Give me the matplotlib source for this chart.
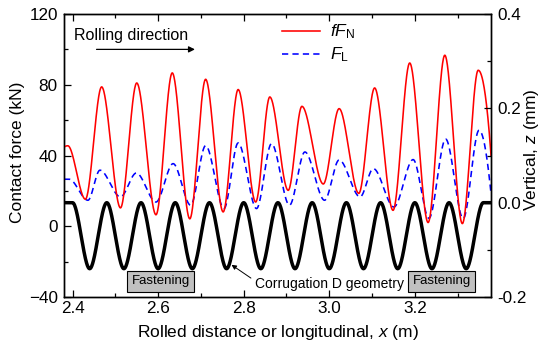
import numpy as np
import matplotlib
matplotlib.use("Agg")
import matplotlib.pyplot as plt
from matplotlib.ticker import MultipleLocator, FormatStrFormatter
from matplotlib.lines import Line2D

plt.rcParams["font.family"] = ["Liberation Sans", "DejaVu Sans"]
plt.rcParams["mathtext.fontset"] = "custom"
plt.rcParams["mathtext.rm"] = "Liberation Sans"
plt.rcParams["mathtext.it"] = "Liberation Sans:italic"
plt.rcParams["lines.scale_dashes"] = False

# Friction force fF_N: local extrema along the rail (x in m, force in kN)
fn_x = [2.380, 2.389, 2.430, 2.468, 2.512, 2.550, 2.595, 2.633, 2.674, 2.711,
        2.752, 2.787, 2.828, 2.861, 2.904, 2.936, 2.986, 3.023, 3.069, 3.106,
        3.149, 3.188, 3.231, 3.270, 3.311, 3.348, 3.378]
fn_val = [44.6, 45.5, 15.3, 78.8, 10.4, 81.0, 6.5, 86.7, 4.2, 83.1,
          8.1, 77.3, 13.7, 73.1, 20.3, 67.8, 23.9, 66.5, 18.6, 78.2,
          9.0, 92.3, 2.1, 96.7, 1.5, 88.2, 40.1]

# Longitudinal force F_L: local extrema (kN)
fl_x = [2.380, 2.392, 2.436, 2.464, 2.512, 2.549, 2.595, 2.635, 2.676, 2.711,
        2.754, 2.787, 2.830, 2.865, 2.907, 2.943, 2.989, 3.023, 3.072, 3.103,
        3.151, 3.196, 3.233, 3.272, 3.313, 3.350, 3.378]
fl_val = [26.6, 26.6, 14.7, 31.7, 16.6, 30.1, 13.7, 35.4, 11.9, 45.6,
          10.0, 47.1, 10.0, 46.7, 11.9, 42.0, 14.7, 37.5, 16.6, 32.6,
          10.9, 37.7, 4.5, 49.3, 4.3, 54.3, 18.5]

# Corrugation D geometry: crests and troughs of the rail surface (z in mm)
corr_x = [2.38, 2.40, 2.44, 2.48, 2.52, 2.56, 2.60, 2.64, 2.68, 2.72, 2.76,
          2.80, 2.84, 2.88, 2.92, 2.96, 3.00, 3.04, 3.08, 3.12, 3.16, 3.20,
          3.24, 3.28, 3.32, 3.36, 3.38]
corr_z = [0.0, 0.0, -0.14, 0.0, -0.14, 0.0, -0.14, 0.0, -0.14, 0.0, -0.14,
          0.0, -0.14, 0.0, -0.14, 0.0, -0.14, 0.0, -0.14, 0.0, -0.14, 0.0,
          -0.14, 0.0, -0.14, 0.0, 0.0]

# Fastening positions (m)
fastening_x = [2.606, 3.263]

x_ticks = [2.4, 2.6, 2.8, 3.0, 3.2]
force_ticks = [-40, 0, 40, 80, 120]
z_ticks = [-0.2, 0.0, 0.2, 0.4]


def pchip(x, y, xs):
    """Shape-preserving piecewise cubic Hermite curve through (x, y)."""
    x = np.asarray(x, float)
    y = np.asarray(y, float)
    h = np.diff(x)
    delta = np.diff(y) / h
    n = len(x)
    d = np.zeros(n)
    for k in range(1, n - 1):
        if delta[k - 1] * delta[k] > 0:
            w1 = 2 * h[k] + h[k - 1]
            w2 = h[k] + 2 * h[k - 1]
            d[k] = (w1 + w2) / (w1 / delta[k - 1] + w2 / delta[k])

    def end_slope(h0, h1, d0, d1):
        s = ((2 * h0 + h1) * d0 - h0 * d1) / (h0 + h1)
        if np.sign(s) != np.sign(d0):
            return 0.0
        if np.sign(d0) != np.sign(d1) and abs(s) > abs(3 * d0):
            return 3 * d0
        return s

    d[0] = end_slope(h[0], h[1], delta[0], delta[1])
    d[-1] = end_slope(h[-1], h[-2], delta[-1], delta[-2])
    idx = np.clip(np.searchsorted(x, xs) - 1, 0, n - 2)
    t = (xs - x[idx]) / h[idx]
    h00 = 2 * t**3 - 3 * t**2 + 1
    h10 = t**3 - 2 * t**2 + t
    h01 = -2 * t**3 + 3 * t**2
    h11 = t**3 - t**2
    return (h00 * y[idx] + h10 * h[idx] * d[idx]
            + h01 * y[idx + 1] + h11 * h[idx] * d[idx + 1])


fig = plt.figure(figsize=(5.41, 3.45), dpi=100)
ax = fig.add_axes([0.1183, 0.1391, 0.7893, 0.8203])
ax2 = ax.twinx()

xs_fn = np.linspace(fn_x[0], fn_x[-1], 1500)
xs_fl = np.linspace(fl_x[0], fl_x[-1], 1500)
xs_c = np.linspace(corr_x[0], corr_x[-1], 1500)

ax.plot(xs_fn, pchip(fn_x, fn_val, xs_fn), color="#ff0000", lw=1.15,
        zorder=3)
ax.plot(xs_fl, pchip(fl_x, fl_val, xs_fl), color="#0000ff", lw=1.15,
        dashes=(4.5, 3.0), zorder=2)
ax2.plot(xs_c, pchip(corr_x, corr_z, xs_c), color="black", lw=2.5,
         solid_capstyle="round")

ax.set_xlim(2.38, 3.378)
ax.set_ylim(-40, 120)
ax2.set_ylim(-0.2, 0.4)

ax.set_xticks(x_ticks)
ax.xaxis.set_major_formatter(FormatStrFormatter("%.1f"))
ax.xaxis.set_minor_locator(MultipleLocator(0.1))
ax.set_yticks(force_ticks)
ax.yaxis.set_minor_locator(MultipleLocator(20))
ax2.set_yticks(z_ticks)
ax2.yaxis.set_major_formatter(FormatStrFormatter("%.1f"))
ax2.yaxis.set_minor_locator(MultipleLocator(0.1))

ax.tick_params(which="both", direction="in", top=True, right=False,
               width=0.9, labelsize=12.3)
ax.tick_params(which="major", length=5)
ax.tick_params(which="minor", length=3)
ax.tick_params(axis="x", pad=3)
ax.tick_params(axis="y", pad=4.5)
ax2.tick_params(which="both", direction="in", width=0.9, labelsize=12.3,
                pad=4.8)
ax2.tick_params(which="major", length=5)
ax2.tick_params(which="minor", length=3)
for a in (ax, ax2):
    for s in a.spines.values():
        s.set_linewidth(1.0)

ax.set_xlabel("Rolled distance or longitudinal, $x$ (m)", fontsize=12.5)
ax.set_ylabel("Contact force (kN)", fontsize=12.5)
ax2.set_ylabel("Vertical, $z$ (mm)", fontsize=12.5)
ax.xaxis.label.set_va("center")
ax.xaxis.set_label_coords(0.5, -0.127)
ax.yaxis.label.set_va("center")
ax.yaxis.set_label_coords(-0.108, 0.51)
ax2.yaxis.label.set_va("center")
ax2.yaxis.set_label_coords(1.095, 0.52)

# Rolling direction note and arrow
ax.text(2.403, 108, "Rolling direction", fontsize=11.5, ha="left",
        va="center")
ax.annotate("", xy=(2.686, 100), xytext=(2.456, 100),
            arrowprops=dict(arrowstyle="-|>", color="black", lw=0.9,
                            mutation_scale=9, shrinkA=0, shrinkB=0))

# Fastening markers
for fx in fastening_x:
    ax.text(fx, -31.2, "Fastening", fontsize=9.5, ha="center", va="center",
            bbox=dict(boxstyle="square,pad=0.32", fc="#c0c0c0", ec="black",
                      lw=0.8), zorder=5)

ax.annotate("Corrugation D geometry", xy=(2.7715, -21.8),
            xytext=(2.826, -32.4), fontsize=10, ha="left", va="center",
            arrowprops=dict(arrowstyle="-|>", color="black", lw=0.7,
                            mutation_scale=7, shrinkA=1, shrinkB=0,
                            relpos=(0.0, 0.7)), zorder=5)

handles = [Line2D([], [], color="#ff0000", lw=1.15),
           Line2D([], [], color="#0000ff", lw=1.15, dashes=(4.5, 3.0))]
ax.legend(handles, [r"$fF_{\mathrm{N}}$", r"$F_{\mathrm{L}}$"],
          loc="upper left", bbox_to_anchor=(0.494, 0.994), frameon=False,
          fontsize=12.5, handlelength=2.2, handletextpad=0.6,
          labelspacing=0.25, borderaxespad=0.0)

fig.savefig("out.png", dpi=100)
